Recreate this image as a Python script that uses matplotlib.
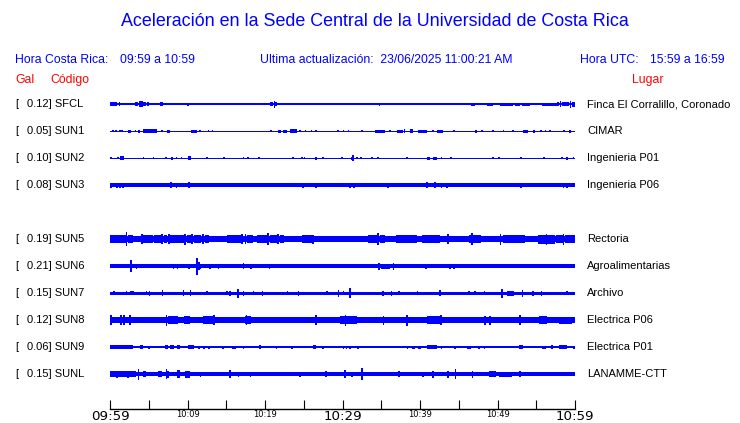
import matplotlib
matplotlib.use("Agg")
import matplotlib.pyplot as plt

# ---------------- data ----------------
codes = ["SFCL", "SUN1", "SUN2", "SUN3", "SUN5", "SUN6", "SUN7", "SUN8", "SUN9", "SUNL"]
gal = [0.12, 0.05, 0.10, 0.08, 0.19, 0.21, 0.15, 0.12, 0.06, 0.15]
places = ["Finca El Corralillo, Coronado", "CIMAR", "Ingenieria P01", "Ingenieria P06",
          "Rectoria", "Agroalimentarias", "Archivo", "Electrica P06", "Electrica P01", "LANAMME-CTT"]
slots = [0, 1, 2, 3, 5, 6, 7, 8, 9, 10]   # SUN4 slot left empty

tick_minutes = [0, 10, 20, 30, 40, 50, 60]
tick_labels = ["09:59", "10:09", "10:19", "10:29", "10:39", "10:49", "10:59"]
minor_minutes = [5, 15, 25, 35, 45, 55]

# background trace amplitude (relative units; 27 = row spacing)
base_amp = [0.55, 0.5, 0.5, 1.7, 3.0, 1.8, 1.5, 2.7, 0.7, 2.0]

# bursts: (start minute, end minute, half amplitude)
sfcl = [(0.0,0.9,1.8),(1.2,1.3,1.6),(1.7,1.7,1.2),(3.2,3.6,1.6),(3.8,4.2,3.0),(4.3,4.7,2.0),
        (4.8,5.0,1.6),(5.4,5.4,1.2),(6.4,6.8,1.8),(8.3,8.3,1.2),(8.9,8.9,1.3),(9.9,10.2,1.5),
        (13.3,13.3,1.0),(15.7,15.7,1.0),(18.1,18.1,1.0),(19.9,19.9,1.0),(20.6,21.0,1.6),
        (21.1,21.3,3.5),(21.4,21.5,1.6),(24.1,24.1,1.0),(24.8,25.0,1.4),(26.2,26.2,1.4),
        (26.8,26.8,1.2),(28.1,28.1,1.0),(32.6,32.6,1.3),(34.2,34.2,1.2),(34.7,34.9,1.5),
        (41.0,41.0,1.2),(43.4,43.6,1.3),(44.0,44.0,1.0),(45.3,45.3,1.2),(46.6,47.1,1.5),
        (47.5,47.5,1.2),(48.1,48.1,1.2),(48.6,49.4,1.5),(50.3,52.0,1.5),(52.3,52.9,1.5),
        (53.2,54.2,1.5),(55.1,55.1,1.3),(55.7,57.7,1.5),(57.7,58.0,2.0),(58.1,58.2,3.0),
        (58.3,59.2,2.2),(59.3,59.5,3.5),(59.6,60.0,2.5)]
sun1 = [(0.4,0.4,1.2),(0.8,0.8,1.2),(1.3,1.3,1.2),(1.5,1.6,1.2),(2.3,2.7,1.5),(3.3,3.3,1.0),
        (3.6,3.9,1.5),(4.3,6.0,1.6),(6.7,6.7,1.3),(7.3,7.7,1.5),(10.5,11.2,1.5),(11.6,11.6,1.0),
        (12.7,12.7,1.2),(13.2,13.2,1.2),(20.8,20.8,1.0),(21.7,22.0,1.5),(22.3,22.8,1.5),
        (23.2,24.1,1.8),(24.5,24.5,1.4),(25.2,25.2,1.0),(26.0,26.0,1.0),(26.6,26.6,1.3),
        (29.4,29.4,1.3),(30.1,30.1,1.0),(30.8,30.8,1.0),(32.5,32.5,1.0),(34.2,35.5,1.5),
        (36.1,36.1,1.0),(37.0,37.8,1.5),(38.0,38.0,1.8),(38.7,39.1,1.6),(39.7,40.9,1.5),
        (41.7,41.7,1.2),(42.2,43.0,1.5),(44.4,44.4,1.0),(47.1,47.4,1.5),(48.0,48.0,1.4),
        (49.4,49.4,1.0),(50.8,50.8,1.0),(52.0,52.0,1.0),(53.3,53.9,1.5),(54.6,54.9,1.5),
        (55.6,55.6,1.2),(56.2,56.2,1.0),(56.8,56.8,1.0),(58.6,58.6,1.0),(59.2,59.5,1.5)]
sun2 = [(0.1,0.1,1.2),(1.0,1.0,1.2),(1.3,1.8,1.6),(4.3,4.3,1.0),(5.6,5.6,1.2),(7.2,7.2,1.0),
        (7.9,8.1,1.5),(8.6,8.6,1.2),(9.2,9.2,1.0),(10.1,10.4,1.6),(12.5,12.5,1.0),(14.7,14.7,1.2),
        (17.2,17.2,1.0),(17.8,17.8,1.2),(19.2,19.2,1.2),(23.6,23.6,1.0),(24.8,24.8,1.0),
        (25.1,25.1,1.2),(26.5,26.7,1.5),(27.5,27.5,1.0),(29.9,29.9,1.0),(31.1,31.2,1.5),
        (31.35,31.35,3.0),(31.9,31.9,1.3),(32.4,32.4,1.2),(33.8,33.8,1.2),(34.6,34.6,1.2),
        (38.3,38.3,1.2),(40.9,41.3,1.5),(41.7,42.2,1.5),(42.8,42.8,1.2),(44.0,44.0,1.0),
        (49.4,49.4,1.0),(50.2,50.2,1.3),(53.0,53.0,1.0),(56.0,56.0,1.2),(58.3,58.3,1.0),
        (58.9,59.1,1.5),(59.8,59.8,1.0)]
sun3 = [(0.1,0.1,2.5),(0.9,0.9,2.5),(1.3,1.3,2.5),(1.7,1.7,2.5),(2.2,2.2,2.3),(5.6,5.6,2.3),
        (7.7,8.0,3.3),(8.6,8.6,2.5),(8.9,8.9,2.3),(10.1,10.3,2.8),(19.2,19.2,2.3),(24.9,24.9,2.5),
        (26.6,26.6,2.5),(31.0,31.0,2.5),(31.5,31.5,2.5),(31.9,31.9,2.3),(35.9,35.9,2.5),
        (40.9,40.9,2.8),(41.9,41.9,3.2),(42.8,42.8,2.5),(43.5,43.5,2.5),(53.0,53.0,2.5),
        (56.0,56.0,2.3),(58.5,58.5,2.5),(59.0,59.0,2.5),(59.7,59.7,2.3)]
sun5 = [(0.0,2.0,3.8),(2.1,2.1,7.0),(2.3,3.0,4.0),(3.3,3.9,3.4),(4.1,4.1,5.0),(4.3,5.5,3.6),
        (5.7,6.6,3.8),(6.7,6.7,5.0),(7.0,7.4,3.8),(7.6,7.6,5.0),(7.8,9.5,3.8),(9.7,9.7,5.5),
        (9.9,10.5,3.9),(10.6,10.6,5.0),(10.8,11.8,3.8),(12.0,12.0,5.0),(12.2,12.8,3.6),
        (15.1,16.9,3.8),(17.0,17.0,5.0),(17.5,17.5,5.0),(17.7,18.5,3.6),(19.0,20.2,3.6),
        (20.4,20.4,6.0),(20.6,21.5,3.6),(21.7,21.7,5.0),(21.9,22.5,3.6),(24.8,26.0,3.6),
        (26.2,26.2,4.5),(26.4,29.5,3.4),(29.7,33.1,3.4),(33.3,34.4,4.3),(34.6,34.6,6.0),
        (34.8,35.5,4.3),(35.6,36.8,3.4),(36.9,38.0,4.3),(38.0,39.6,4.0),(40.2,42.6,4.0),
        (42.7,43.4,3.4),(43.6,43.6,5.0),(43.8,46.2,3.4),(46.3,46.6,4.3),(46.7,46.7,6.0),
        (46.9,47.9,4.3),(48.0,50.1,3.4),(50.4,50.4,5.5),(50.7,53.6,4.0),(53.7,55.1,3.4),
        (55.2,57.4,4.5),(56.3,56.3,5.5),(57.5,58.4,4.0),(58.5,58.5,5.5),(58.7,60.0,4.0)]
sun6 = [(2.7,2.7,6.0),(3.4,3.4,2.5),(6.5,7.8,2.3),(8.2,8.2,2.5),(8.7,8.7,2.5),(10.2,10.2,2.5),
        (11.2,11.2,8.5),(11.4,11.5,4.0),(11.7,11.7,2.5),(12.9,12.9,2.5),(14.0,14.0,2.5),
        (14.6,14.6,2.3),(17.2,17.2,2.8),(18.2,18.2,2.5),(20.6,20.6,2.5),(23.5,23.5,2.3),
        (25.4,25.4,2.3),(26.1,26.5,2.3),(27.9,28.3,2.3),(29.9,29.9,2.3),(34.7,34.7,3.5),
        (35.0,36.1,2.5),(36.6,36.6,3.5),(39.0,39.0,2.3),(40.1,40.1,2.3),(40.8,40.8,2.5),
        (42.6,42.6,2.3),(43.9,43.9,2.5),(44.4,44.4,2.5),(56.6,56.6,2.3),(57.6,57.6,2.3)]
sun7 = [(0.5,0.5,2.3),(2.1,2.1,2.3),(2.7,2.7,2.3),(3.0,3.0,2.3),(4.7,4.7,2.3),(5.1,5.1,2.5),
        (6.7,6.9,3.0),(9.5,9.5,2.8),(10.4,10.4,2.8),(12.5,12.5,2.3),(15.1,15.1,2.3),(15.5,15.5,2.5),
        (16.4,16.6,4.5),(17.2,17.2,2.5),(18.5,18.5,2.3),(19.7,19.7,2.5),(22.9,22.9,2.3),
        (24.3,24.3,2.5),(28.0,28.0,2.3),(29.5,29.5,3.5),(30.1,30.1,2.3),(30.9,31.1,5.3),
        (35.2,35.2,2.5),(36.3,36.3,2.5),(37.3,37.3,2.3),(39.7,39.7,2.3),(42.6,42.6,2.8),
        (46.3,46.3,2.3),(47.1,47.1,2.3),(48.3,48.3,2.3),(50.5,50.7,4.5),(51.2,52.1,2.5),
        (53.2,53.2,3.5),(54.6,54.6,2.5),(55.7,55.7,2.5),(59.0,59.0,2.3)]
sun8 = [(0.0,3.4,3.4),(0.1,0.1,5.0),(1.4,1.4,5.0),(1.8,1.8,5.0),(2.6,2.6,5.0),(3.6,6.9,3.0),
        (7.3,7.3,5.5),(7.5,8.8,3.6),(9.5,10.3,3.6),(12.0,13.6,3.6),(13.4,13.4,5.0),(14.0,17.3,3.0),
        (17.4,18.2,3.8),(17.6,17.6,5.0),(18.5,21.5,3.2),(23.2,25.8,3.4),(26.6,26.6,5.0),
        (27.2,29.5,3.0),(29.7,31.9,3.8),(30.4,30.4,5.5),(32.0,38.2,3.3),(35.3,35.3,4.5),
        (38.3,38.3,5.5),(40.9,42.6,3.6),(42.7,42.7,5.0),(43.5,49.1,3.0),(48.4,48.4,4.5),
        (49.0,49.0,4.5),(49.5,53.6,3.4),(52.9,52.9,5.0),(55.3,56.4,4.3),(57.9,59.6,3.5)]
sun9 = [(0.0,3.0,1.8),(3.9,4.3,1.8),(5.0,5.0,1.5),(7.1,7.5,2.3),(7.7,8.2,1.7),(8.6,9.0,1.7),
        (10.1,10.8,1.7),(11.5,11.5,1.5),(12.1,12.1,1.5),(12.8,12.8,1.5),(14.6,14.6,1.5),
        (15.7,16.3,1.5),(17.2,17.2,1.5),(19.2,19.5,1.7),(21.5,21.5,1.5),(23.5,23.5,1.5),
        (26.2,26.6,1.7),(27.5,27.5,1.5),(29.2,29.2,1.4),(30.1,30.1,1.5),(30.5,30.5,1.5),
        (31.0,31.0,1.5),(32.0,32.0,1.5),(33.3,33.3,1.4),(38.3,38.5,1.5),(39.0,39.4,1.5),
        (39.8,40.1,1.5),(40.9,42.2,1.7),(42.8,42.8,1.5),(44.5,44.5,1.5),(46.1,46.6,1.5),
        (47.6,47.6,1.5),(48.3,48.3,1.5),(51.1,51.1,1.4),(52.8,53.3,1.7),(55.8,56.3,1.5),
        (57.0,57.0,1.7),(57.9,59.0,1.7),(59.9,59.9,1.5)]
sunl = [(0.0,3.4,2.8),(0.9,0.9,3.5),(2.3,2.3,3.5),(3.7,3.7,5.5),(4.3,4.7,3.0),(6.2,6.7,3.0),
        (7.3,7.3,5.0),(7.5,7.5,3.5),(8.6,9.0,4.0),(9.7,10.3,3.5),(11.7,11.7,2.5),(15.3,15.6,3.8),
        (16.6,16.6,2.5),(18.1,18.1,2.5),(24.5,24.5,2.5),(27.9,27.9,2.8),(30.3,30.3,3.8),
        (31.2,31.2,2.5),(32.5,32.5,6.0),(37.3,37.3,2.8),(40.4,40.4,2.5),(41.7,41.7,3.5),
        (43.6,43.6,3.5),(44.6,44.6,5.0),(46.8,46.8,3.5),(48.9,49.8,2.8),(50.2,51.9,2.5),
        (52.9,52.9,2.8)]

bursts = [sfcl, sun1, sun2, sun3, sun5, sun6, sun7, sun8, sun9, sunl]

# ---------------- figure ----------------
W, H = 740, 423
BLUE = "#0000ff"
RED = "#ff0000"
fig = plt.figure(figsize=(W / 100, H / 100), dpi=100)
fig.patch.set_facecolor("white")

def fx(px):
    return px / W

def fy(py):
    return 1 - py / H

ax = fig.add_axes([fx(110), fy(409), fx(575) - fx(110), fy(90) - fy(409)])
ax.set_xlim(0, 60)
ax.set_ylim(11.295, -0.52)
SC = 27.0  # amplitude units per row

for slot, b, bl in zip(slots, base_amp, bursts):
    ax.fill_between([0, 60], slot - b / SC, slot + b / SC, color=BLUE, lw=0)
    centers = [(s + e) / 2 for s, e, a in bl]
    widths = [max(e - s, 0.2) for s, e, a in bl]
    heights = [2 * a / SC for s, e, a in bl]
    bottoms = [slot - a / SC for s, e, a in bl]
    ax.bar(centers, heights, width=widths, bottom=bottoms, color=BLUE, lw=0, align="center")

for sp in ["top", "left", "right"]:
    ax.spines[sp].set_visible(False)
ax.spines["bottom"].set_linewidth(1.0)
ax.set_yticks([])
ax.set_xticks(tick_minutes)
ax.set_xticklabels(tick_labels, family="DejaVu Sans")
ax.set_xticks(minor_minutes, minor=True)
ax.tick_params(axis="x", which="both", direction="in", length=6.5, width=0.8, pad=0.8)
for i, lab in enumerate(ax.get_xticklabels()):
    lab.set_fontsize(9.6 if i in (0, 3, 6) else 6)

# ---------------- texts ----------------
SANS = "Liberation Sans"
fig.text(fx(375), fy(22), "Aceleración en la Sede Central de la Universidad de Costa Rica",
         ha="center", va="center", color=BLUE, fontsize=12.9, family=SANS)
HS = 8.8
fig.text(fx(15), fy(60), "Hora Costa Rica:", ha="left", va="center", color=BLUE, fontsize=HS, family=SANS)
fig.text(fx(120), fy(60), "09:59 a 10:59", ha="left", va="center", color=BLUE, fontsize=HS, family=SANS)
fig.text(fx(260), fy(60), "Ultima actualización:  23/06/2025 11:00:21 AM", ha="left", va="center",
         color=BLUE, fontsize=HS, family=SANS)
fig.text(fx(580), fy(60), "Hora UTC:", ha="left", va="center", color=BLUE, fontsize=HS, family=SANS)
fig.text(fx(650), fy(60), "15:59 a 16:59", ha="left", va="center", color=BLUE, fontsize=HS, family=SANS)
fig.text(fx(15), fy(80), "Gal", ha="left", va="center", color=RED, fontsize=HS, family=SANS)
fig.text(fx(50), fy(80), "Código", ha="left", va="center", color=RED, fontsize=HS, family=SANS)
fig.text(fx(648), fy(80), "Lugar", ha="center", va="center", color=RED, fontsize=HS, family=SANS)

for slot, g, c, p in zip(slots, gal, codes, places):
    yy = ax.transData.transform((0, slot))[1] / H
    fig.text(fx(15), yy, "[", ha="left", va="center", fontsize=8, family=SANS)
    fig.text(fx(27), yy, f"{g:.2f}] {c}", ha="left", va="center", fontsize=8, family=SANS)
    fig.text(fx(587), yy, p, ha="left", va="center", fontsize=8, family=SANS)

fig.savefig("out.png", dpi=100, facecolor="white")
